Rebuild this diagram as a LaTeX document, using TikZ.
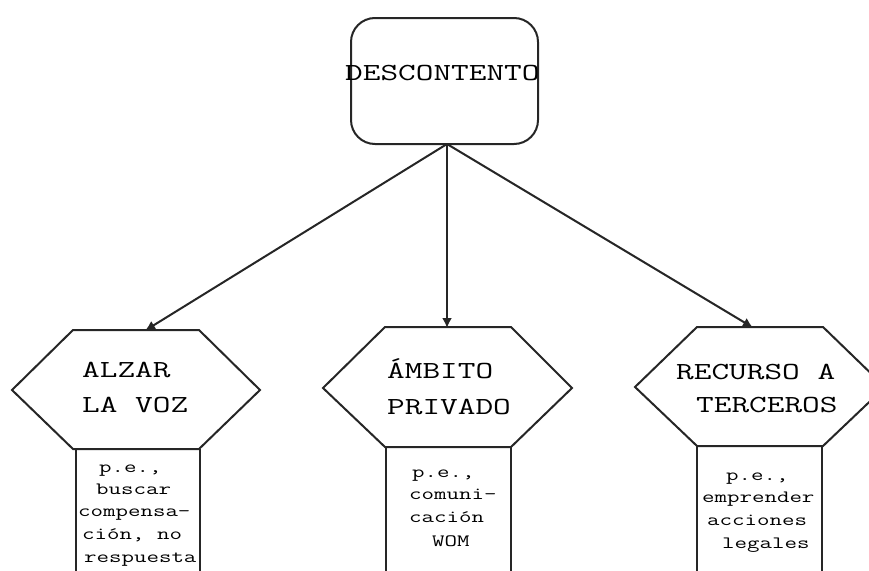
\documentclass[tikz,border=0pt]{standalone}
\usepackage{fontspec}
\usetikzlibrary{arrows.meta}
\newfontfamily\typewriter[FakeStretch=1.4]{Latin Modern Mono}
\tikzset{
  outline/.style={draw=black!85, line width=2pt},
  bigtext/.style={inner sep=0pt, anchor=base west, font=\typewriter\fontsize{24.5}{36}\selectfont},
  smalltext/.style={inner sep=0pt, anchor=base west, font=\typewriter\fontsize{17.3}{23}\selectfont},
  link/.style={draw=black!85, line width=2pt, -{Latex[length=10pt,width=10pt]}, shorten >=-1pt}
}
\begin{document}
\begin{tikzpicture}[x=1pt,y=-1pt]
  \useasboundingbox (0,0) rectangle (869,570);
  \clip (0,0) rectangle (869,570);

  % root box
  \draw[outline, rounded corners=24pt] (351,18) rectangle (538,144);
  \coordinate (root) at (447,144);
  \node[bigtext] (desc) at (345,80) {DESCONTENTO};

  % left branch: hexagon and example box
  \draw[outline] (12,390) -- (73,330) -- (199,330) -- (260,390) -- (199,449) -- (73,449) -- cycle;
  \draw[outline] (76,575) -- (76,449) (200,449) -- (200,575);
  \coordinate (voz) at (146,330);
  \node[bigtext] (voz1) at (82,377) {ALZAR};
  \node[bigtext] (voz2) at (82,412) {LA VOZ};
  \node[smalltext] (voz3) at (99,472) {p.e.,};
  \node[smalltext] (voz4) at (96,494) {buscar};
  \node[smalltext] (voz5) at (78,516) {compensa-};
  \node[smalltext] (voz6) at (82,539) {ción, no};
  \node[smalltext] (voz7) at (84,562) {respuesta};

  % middle branch
  \draw[outline] (323,388) -- (385,327) -- (511,327) -- (572,388) -- (511,447) -- (385,447) -- cycle;
  \draw[outline] (386,575) -- (386,447) (511,447) -- (511,575);
  \coordinate (priv) at (447,327);
  \node[bigtext] (priv1) at (387,378) {ÁMBITO};
  \node[bigtext] (priv2) at (387,414) {PRIVADO};
  \node[smalltext] (priv3) at (412,477) {p.e.,};
  \node[smalltext] (priv4) at (409,499) {comuni-};
  \node[smalltext] (priv5) at (409,522) {cación};
  \node[smalltext] (priv6) at (432,546) {WOM};

  % right branch
  \draw[outline] (635,387) -- (697,327) -- (823,327) -- (885,387) -- (823,446) -- (697,446) -- cycle;
  \draw[outline] (697,575) -- (697,446) (822,446) -- (822,575);
  \coordinate (terc) at (752,327);
  \node[bigtext] (terc1) at (676,379) {RECURSO A};
  \node[bigtext] (terc2) at (696,412) {TERCEROS};
  \node[smalltext] (terc3) at (726,480) {p.e.,};
  \node[smalltext] (terc4) at (702,502) {emprender};
  \node[smalltext] (terc5) at (707,525) {acciones};
  \node[smalltext] (terc6) at (722,548) {legales};

  % connectors
  \draw[link] (root) -- (voz);
  \draw[link] (root) -- (priv);
  \draw[link] (root) -- (terc);
\end{tikzpicture}
\end{document}
